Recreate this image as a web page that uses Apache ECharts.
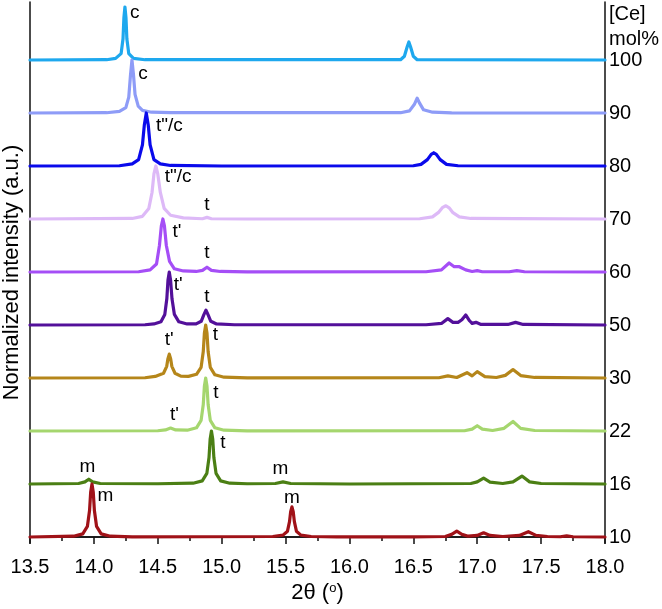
<!DOCTYPE html>
<html>
<head>
<meta charset="utf-8">
<script src="https://cdn.jsdelivr.net/npm/echarts@6/dist/echarts.min.js"></script>
<style>html,body{margin:0;padding:0;background:#fff;}#c{width:662px;height:609px;}</style>
</head>
<body>
<div id="c"></div>
<script>
// Ce concentration labels (bottom to top)
var concLabels = ['10', '16', '22', '30', '50', '60', '70', '80', '90', '100'];
var xTicks = [13.5, 14.0, 14.5, 15.0, 15.5, 16.0, 16.5, 17.0, 17.5, 18.0];

// Normalized XRD intensity traces [2theta, normalized intensity]
var ce10 = [[13.5,0],[13.841,0.015],[13.913,0.06],[13.949,0.2],[13.966,0.5],[13.975,0.85],[13.985,1.0],[13.995,0.85],[14.004,0.5],[14.021,0.2],[14.057,0.06],[14.129,0.015],[14.3,0.003],
  [15.40,0.01],[15.48,0.035],[15.515,0.11],[15.531,0.29],[15.54,0.48],[15.55,0.57],[15.56,0.48],[15.569,0.29],[15.585,0.11],[15.62,0.035],[15.70,0.01],[15.9,0.002],
  [16.5,0.002],[16.75,0.01],[16.80,0.05],[16.84,0.11],[16.88,0.05],[16.93,0.015],[17.0,0.03],[17.05,0.08],[17.10,0.03],[17.2,0.01],[17.33,0.03],[17.40,0.10],[17.46,0.03],[17.55,0.01],[17.65,0.005],[17.70,0.02],[17.75,0.005],[18.0,0]];
var ce16 = [[13.5,0],[13.88,0.01],[13.93,0.04],[13.96,0.09],[13.99,0.04],[14.05,0.01],[14.5,0.005],[14.776,0.015],[14.848,0.06],[14.884,0.2],[14.901,0.5],[14.91,0.85],[14.92,1.0],[14.93,0.85],[14.939,0.5],[14.956,0.2],[14.992,0.06],[15.064,0.015],[15.2,0.005],
  [15.42,0.01],[15.48,0.04],[15.54,0.01],[16.0,0],[16.95,0.01],[17.0,0.04],[17.05,0.11],[17.1,0.035],[17.2,0.01],[17.28,0.04],[17.35,0.15],[17.41,0.04],[17.5,0.01],[18.0,0]];
var ce22 = [[13.5,0],[14.5,0.005],[14.56,0.02],[14.6,0.055],[14.64,0.02],[14.731,0.015],[14.803,0.06],[14.839,0.2],[14.856,0.5],[14.865,0.85],[14.875,1.0],[14.885,0.85],[14.894,0.5],[14.911,0.2],[14.947,0.06],[15.019,0.015],[15.2,0.003],
  [16.9,0.005],[16.96,0.035],[17.0,0.1],[17.04,0.035],[17.12,0.01],[17.21,0.05],[17.28,0.18],[17.34,0.05],[17.45,0.01],[18.0,0]];
var ce30 = [[13.5,0],[14.4,0.005],[14.48,0.03],[14.545,0.09],[14.57,0.22],[14.579,0.36],[14.59,0.45],[14.601,0.36],[14.61,0.22],[14.635,0.09],[14.68,0.035],[14.74,0.03],[14.803,0.07],[14.839,0.2],[14.856,0.5],[14.865,0.85],[14.875,1.0],[14.885,0.85],[14.894,0.5],[14.911,0.2],[14.947,0.06],[15.019,0.015],[15.2,0.003],
  [16.7,0.005],[16.77,0.04],[16.84,0.01],[16.92,0.1],[16.96,0.04],[17.0,0.12],[17.06,0.025],[17.15,0.01],[17.22,0.05],[17.28,0.16],[17.34,0.045],[17.45,0.01],[18.0,0]];
var ce50 = [[13.5,0],[14.4,0.005],[14.47,0.02],[14.525,0.06],[14.555,0.2],[14.571,0.5],[14.58,0.85],[14.59,1.0],[14.6,0.85],[14.611,0.5],[14.63,0.2],[14.665,0.06],[14.73,0.02],[14.80,0.02],[14.84,0.07],[14.86,0.19],[14.877,0.28],[14.894,0.19],[14.915,0.07],[14.96,0.02],[15.1,0.005],
  [16.6,0.005],[16.72,0.03],[16.77,0.12],[16.81,0.05],[16.85,0.05],[16.88,0.1],[16.91,0.19],[16.94,0.08],[16.96,0.03],[16.99,0.05],[17.03,0.01],[17.24,0.01],[17.30,0.05],[17.36,0.01],[18.0,0]];
var ce60 = [[13.5,0],[14.35,0.005],[14.44,0.04],[14.49,0.15],[14.513,0.5],[14.528,0.87],[14.54,1.0],[14.552,0.87],[14.567,0.5],[14.592,0.2],[14.63,0.06],[14.70,0.02],[14.80,0.01],[14.85,0.03],[14.885,0.09],[14.92,0.03],[14.99,0.01],[15.2,0.003],
  [16.6,0.005],[16.72,0.04],[16.78,0.17],[16.82,0.1],[16.86,0.1],[16.91,0.04],[16.96,0.01],[17.0,0.025],[17.04,0.005],[17.25,0.005],[17.31,0.025],[17.37,0.005],[18.0,0]];
var ce70 = [[13.5,0],[14.3,0.01],[14.38,0.05],[14.43,0.2],[14.455,0.5],[14.47,0.85],[14.485,1.0],[14.50,0.85],[14.52,0.5],[14.55,0.2],[14.60,0.07],[14.70,0.02],[14.85,0.005],[14.885,0.03],[14.92,0.005],[15.2,0],
  [16.55,0.005],[16.65,0.04],[16.70,0.13],[16.73,0.22],[16.755,0.25],[16.78,0.21],[16.81,0.12],[16.86,0.04],[16.95,0.01],[17.3,0.008],[18.0,0]];
var ce80 = [[13.5,0],[14.2,0.005],[14.3,0.04],[14.35,0.12],[14.38,0.4],[14.395,0.78],[14.41,1.0],[14.425,0.78],[14.44,0.4],[14.47,0.12],[14.52,0.04],[14.6,0.01],[15.0,0],
  [16.5,0.005],[16.56,0.03],[16.61,0.12],[16.64,0.22],[16.66,0.25],[16.68,0.22],[16.71,0.12],[16.76,0.03],[16.85,0.005],[18.0,0]];
var ce90 = [[13.5,0],[14.1,0.005],[14.2,0.03],[14.25,0.1],[14.273,0.3],[14.286,0.7],[14.298,1.0],[14.31,0.72],[14.322,0.35],[14.347,0.13],[14.38,0.05],[14.45,0.015],[14.6,0.005],
  [16.4,0.005],[16.47,0.04],[16.51,0.17],[16.53,0.28],[16.55,0.18],[16.58,0.06],[16.65,0.015],[16.8,0.003],[18.0,0]];
var ce100 = [[13.5,0],[14.1,0.005],[14.17,0.03],[14.213,0.12],[14.228,0.4],[14.235,0.8],[14.243,1.0],[14.251,0.8],[14.258,0.4],[14.273,0.12],[14.31,0.03],[14.4,0.005],
  [16.4,0.005],[16.43,0.07],[16.452,0.25],[16.465,0.34],[16.478,0.25],[16.5,0.07],[16.53,0.005],[18.0,0]];

var traces = [ce10, ce16, ce22, ce30, ce50, ce60, ce70, ce80, ce90, ce100];
var traceColors = ['#A01218', '#4B7F14', '#A5D66E', '#B5861A', '#53109A', '#A54EF6', '#DDB9F7', '#0A0AEB', '#8E9CF7', '#1EA8EE'];

// Phase annotations [2theta, stacked y, text]
var annotations = [
  [14.32, 9.89, 'c'], [14.385, 8.74, 'c'],
  [14.59, 7.75, 't"/c'], [14.66, 6.79, 't"/c'], [14.885, 6.26, 't'],
  [14.65, 5.75, "t'"], [14.885, 5.36, 't'],
  [14.66, 4.75, "t'"], [14.885, 4.53, 't'],
  [14.59, 3.72, "t'"], [14.95, 3.81, 't'],
  [14.955, 2.72, 't'], [14.63, 2.30, "t'"],
  [13.95, 1.32, 'm'], [15.01, 1.77, 't'], [15.46, 1.28, 'm'],
  [14.09, 0.77, 'm'], [15.55, 0.74, 'm']
];

var FONT = 'Liberation Sans, Arial, sans-serif';
var yMin = -0.113, yMax = 10.094;

var series = [];
for (var i = traces.length - 1; i >= 0; i--) {
  (function (k) {
    series.push({
      type: 'line',
      xAxisIndex: 0, yAxisIndex: 0,
      data: traces[k].map(function (p) { return [p[0], k + p[1]]; }),
      showSymbol: false, symbol: 'none',
      lineStyle: { color: traceColors[k], width: 3.2, join: 'round', cap: 'round' },
      silent: true, animation: false
    });
  })(i);
}
series.push({
  type: 'scatter', xAxisIndex: 0, yAxisIndex: 0,
  symbolSize: 0, animation: false, silent: true, z: 5,
  itemStyle: { opacity: 1 },
  data: annotations.map(function (a) { return { value: [a[0], a[1]], name: a[2] }; }),
  label: { show: true, position: 'inside', formatter: function (p) { return p.name; },
           color: '#000', opacity: 1, fontSize: 19, fontFamily: FONT }
});

var chart = echarts.init(document.getElementById('c'), null, { renderer: 'canvas' });
chart.setOption({
  animation: false,
  backgroundColor: '#fff',
  grid: { left: 30, right: 57, top: 2, bottom: 66, containLabel: false, outerBoundsMode: 'none' },
  xAxis: [{
    type: 'value', position: 'bottom', min: 13.5, max: 18.0, interval: 0.5,
    name: '{a|2θ (}{s|o}{a|)}', nameLocation: 'middle', nameGap: 36,
    nameTextStyle: { rich: { a: { fontSize: 22, fontFamily: FONT, color: '#000' },
                             s: { fontSize: 13, fontFamily: FONT, color: '#000', verticalAlign: 'top', padding: [0, 0, 10, 0] } } },
    axisLine: { show: true, lineStyle: { color: '#111', width: 1.5 } },
    axisTick: { show: true, inside: false, length: 7, lineStyle: { color: '#111', width: 1.5 } },
    minorTick: { show: true, splitNumber: 2, length: 4, lineStyle: { color: '#111', width: 1.5 } },
    axisLabel: { margin: 14, fontSize: 20, fontFamily: FONT, color: '#000',
                 formatter: function (v) { return v.toFixed(1); } },
    splitLine: { show: false }
  }, {
    type: 'value', position: 'top', min: 13.5, max: 18.0, interval: 0.5,
    axisLine: { show: true, lineStyle: { color: '#111', width: 1.5 } },
    axisTick: { show: false }, axisLabel: { show: false }, splitLine: { show: false }
  }],
  yAxis: [{
    type: 'value', position: 'left', min: yMin, max: yMax,
    name: 'Normalized intensity (a.u.)', nameLocation: 'middle', nameGap: 7,
    nameTextStyle: { fontSize: 22, fontFamily: FONT, color: '#000' },
    axisLine: { show: true, lineStyle: { color: '#111', width: 1.5 } },
    axisTick: { show: false }, axisLabel: { show: false }, splitLine: { show: false }
  }, {
    type: 'value', position: 'right', min: yMin, max: yMax,
    axisLine: { show: true, lineStyle: { color: '#111', width: 1.5 } },
    axisTick: { show: false },
    axisLabel: {
      show: true, margin: 4, fontSize: 20, fontFamily: FONT, color: '#000',
      customValues: concLabels.map(function (_, idx) { return idx; }),
      formatter: function (v) { return concLabels[Math.round(v)]; }
    },
    splitLine: { show: false }
  }],
  graphic: [
    { type: 'text', left: 609, top: 4, style: { text: '[Ce]', fontSize: 20, fontFamily: FONT, fill: '#000' } },
    { type: 'text', left: 609, top: 29, style: { text: 'mol%', fontSize: 20, fontFamily: FONT, fill: '#000' } }
  ],
  series: series
});
</script>
</body>
</html>
